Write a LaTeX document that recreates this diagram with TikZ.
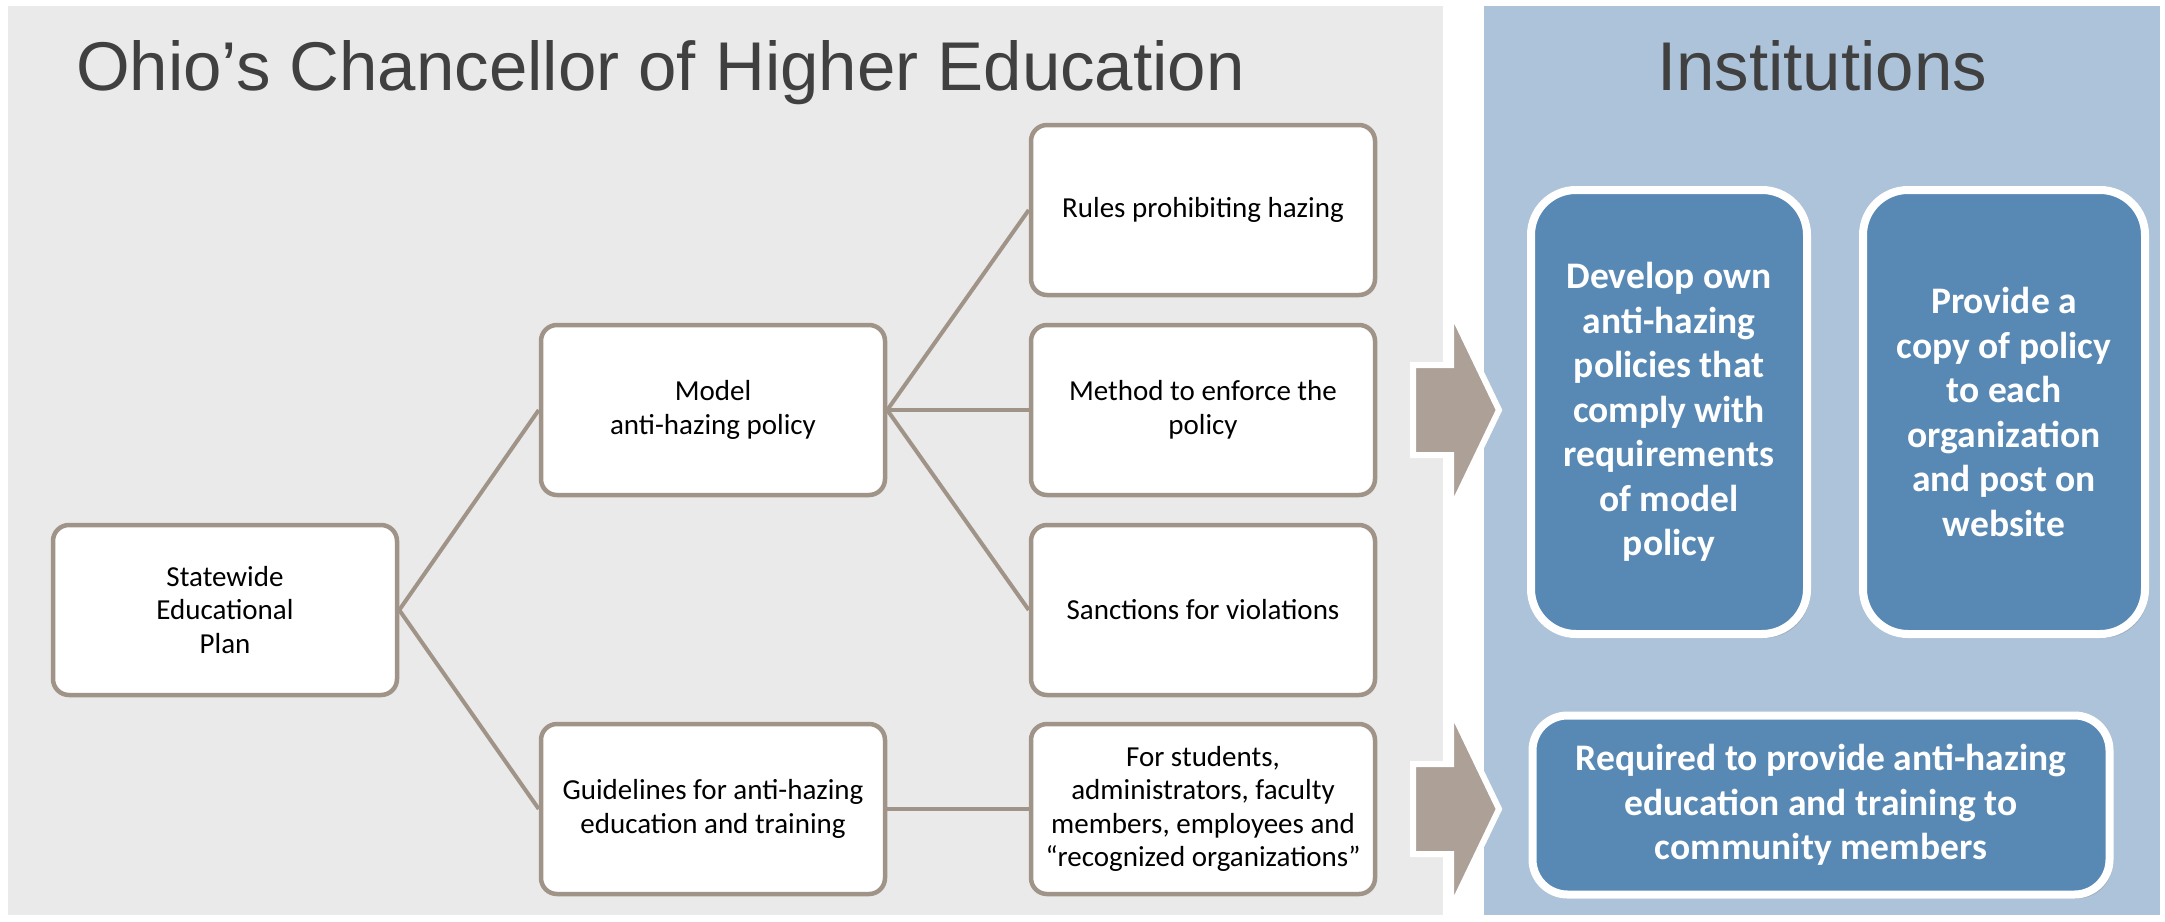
\documentclass[tikz,border=0pt]{standalone}
\usepackage{fontspec}
\setmainfont{Carlito}
\newfontfamily\HeadFont{Liberation Sans}
\usepackage{tikz}
\usetikzlibrary{shadows}
\usepackage{xcolor}
\definecolor{ColA}{RGB}{160,148,137}
\definecolor{ColB}{RGB}{88,137,181}
\definecolor{ColC}{RGB}{173,195,217}
\definecolor{ColD}{RGB}{234,234,234}
\definecolor{ColE}{RGB}{172,160,151}
\definecolor{ColT}{RGB}{64,64,64}
\tikzstyle{HeadText}=[anchor=base,text=ColT,inner sep=0pt,
font=\HeadFont\fontsize{69}{80}\selectfont]
\tikzstyle{NodeOhio}=[rectangle,rounded corners=16pt,draw=ColA,fill=white,line width=4.5pt,
minimum width=344pt,minimum height=170pt,align=center,font=\fontsize{29}{33.5}\selectfont]
\tikzstyle{EdgeOhio}=[ColA,line width=4pt]
\tikzstyle{NodeInst}=[rectangle,rounded corners=45pt,draw=white,fill=ColB,line width=8pt,
align=center,text=white,font=\bfseries\fontsize{37.5}{44.5}\selectfont,
drop shadow={opacity=.3,shadow xshift=3pt,shadow yshift=-4pt}]
\tikzstyle{BlockArrow}=[draw=white,fill=ColE,line width=6pt,line join=miter,
drop shadow={opacity=.15,shadow xshift=-2pt,shadow yshift=-2pt}]

\begin{document}
\begin{tikzpicture}[x=1pt,y=-1pt]
        \useasboundingbox (0,0) rectangle (2165,921);
        \fill[ColD] (8,6) rectangle (1443,915);
        \fill[ColC] (1484,6) rectangle (2160,915);
        \node[HeadText,anchor=base west](ohio)at(76,90){Ohio’s Chancellor of Higher Education};
        \node[HeadText](inst)at(1822,90){Institutions};
        % chancellor side
        \node[NodeOhio](plan)at(225,610){Statewide\\Educational\\Plan};
        \node[NodeOhio](model)at(713,410){Model\\anti-hazing policy};
        \node[NodeOhio](guide)at(713,809){Guidelines for anti-hazing\\education and training};
        \node[NodeOhio](rules)at(1203,210){Rules prohibiting hazing};
        \node[NodeOhio](method)at(1203,410){Method to enforce the\\policy};
        \node[NodeOhio](sanct)at(1203,610){Sanctions for violations};
        \node[NodeOhio](forst)at(1203,809){For students,\\administrators, faculty\\members, employees and\\“recognized organizations”};
        \draw[EdgeOhio](plan.east)--(model.west);
        \draw[EdgeOhio](plan.east)--(guide.west);
        \draw[EdgeOhio](model.east)--(rules.west);
        \draw[EdgeOhio](model.east)--(method.west);
        \draw[EdgeOhio](model.east)--(sanct.west);
        \draw[EdgeOhio](guide.east)--(forst.west);
        % block arrows
        \foreach \y in {410,809}
        \draw[BlockArrow](1413,\y-45)--(1451,\y-45)--(1451,\y-100)--(1499,\y)
        --(1451,\y+100)--(1451,\y+45)--(1413,\y+45)--cycle;
        % institutions side
        \node[NodeInst,minimum width=276pt,minimum height=444pt](dev)at(1669,412){Develop own\\anti-hazing\\policies that\\comply with\\requirements\\of model\\policy};
        \node[NodeInst,minimum width=282pt,minimum height=444pt](copy)at(2004,412){Provide a\\copy of policy\\to each\\organization\\and post on\\website};
        \node[NodeInst,rounded corners=35pt,minimum width=577pt,minimum height=179pt](req)at(1821,805){Required to provide anti-hazing\\education and training to\\community members};
\end{tikzpicture}
\end{document}
